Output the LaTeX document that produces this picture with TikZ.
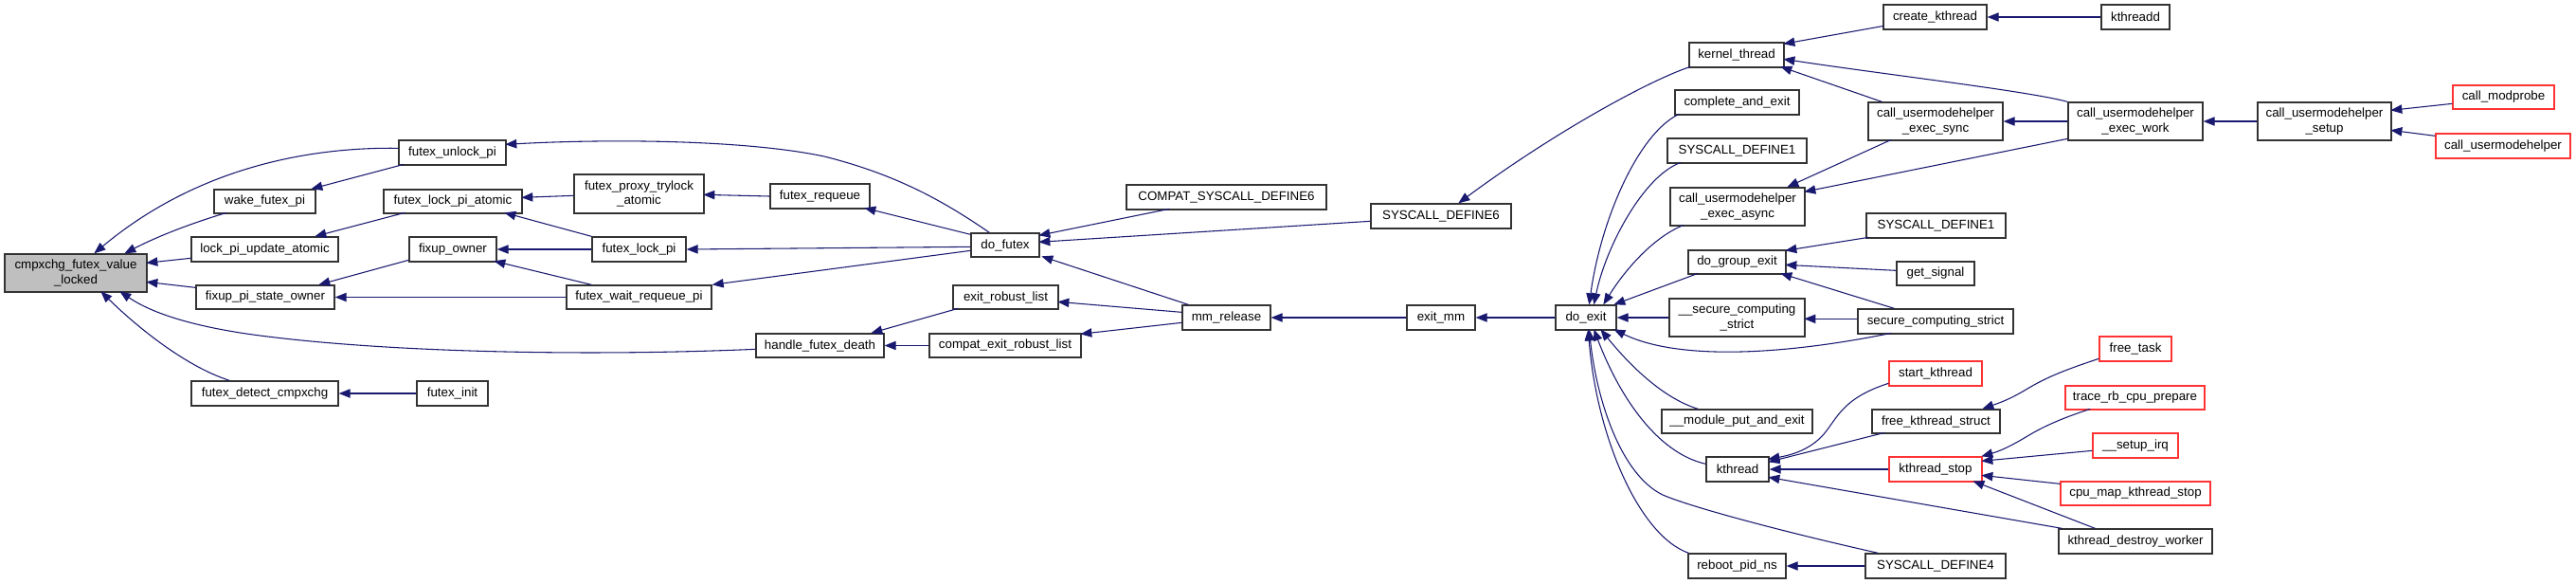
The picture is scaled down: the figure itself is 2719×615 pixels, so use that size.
\documentclass[tikz,border=0pt]{standalone}
\usepackage{fontspec}
\setmainfont{Liberation Sans}
\usetikzlibrary{arrows.meta,calc}
\definecolor{edgeblue}{HTML}{191970}
\definecolor{rootgray}{HTML}{BFBFBF}
\definecolor{nodered}{HTML}{FF3333}
\definecolor{nodeborder}{HTML}{333333}
\newcommand\nd[7]{\node[#6, minimum width={(#4-#2)*0.75pt}, minimum height={(#5-#3)*0.75pt}] (#1) at ({(#2+#4)/2},{(#3+#5)/2}) {#7};}
\begin{document}
\begin{tikzpicture}[x=0.75pt,y=-0.75pt,
 nbase/.style={draw, line width=1pt, inner sep=0pt, align=center, font=\fontsize{10}{11.5}\selectfont},
 nplain/.style={nbase, draw=nodeborder, fill=white},
 nred/.style={nbase, draw=nodered, fill=white},
 nroot/.style={nbase, draw=nodeborder, fill=rootgray},
 conn/.style={draw=edgeblue, line width=0.8pt, -{Triangle[length=9pt,width=7pt]}}]
\fill[white] (0,0) rectangle (2719,615);
\useasboundingbox (0,0) rectangle (2719,615);
% nodes
\nd{cmpx}{5}{268}{155}{308}{nroot}{cmpxchg\_futex\_value\\\_locked}
\nd{unlock}{421}{148}{534}{174}{nplain}{futex\_unlock\_pi}
\nd{wake}{226}{200}{333}{225}{nplain}{wake\_futex\_pi}
\nd{lpatomic}{405}{200}{551}{225}{nplain}{futex\_lock\_pi\_atomic}
\nd{lpupd}{202}{250}{357}{276}{nplain}{lock\_pi\_update\_atomic}
\nd{fixown}{432}{250}{524}{276}{nplain}{fixup\_owner}
\nd{fixpi}{207}{301}{353}{326}{nplain}{fixup\_pi\_state\_owner}
\nd{detect}{202}{402}{357}{428}{nplain}{futex\_detect\_cmpxchg}
\nd{finit}{440}{402}{515}{428}{nplain}{futex\_init}
\nd{proxy}{606}{184}{743}{225}{nplain}{futex\_proxy\_trylock\\\_atomic}
\nd{requeue}{813}{194}{918}{220}{nplain}{futex\_requeue}
\nd{lockpi}{625}{250}{724}{276}{nplain}{futex\_lock\_pi}
\nd{waitrq}{598}{301}{751}{326}{nplain}{futex\_wait\_requeue\_pi}
\nd{handle}{798}{352}{933}{377}{nplain}{handle\_futex\_death}
\nd{dofutex}{1025}{246}{1097}{271}{nplain}{do\_futex}
\nd{erl}{1006}{301}{1117}{326}{nplain}{exit\_robust\_list}
\nd{cerl}{981}{352}{1141}{377}{nplain}{compat\_exit\_robust\_list}
\nd{mmrel}{1248}{322}{1341}{348}{nplain}{mm\_release}
\nd{compat6}{1189}{195}{1400}{221}{nplain}{COMPAT\_SYSCALL\_DEFINE6}
\nd{sys6}{1447}{215}{1595}{241}{nplain}{SYSCALL\_DEFINE6}
\nd{exitmm}{1485}{322}{1557}{348}{nplain}{exit\_mm}
\nd{doexit}{1642}{322}{1706}{348}{nplain}{do\_exit}
\nd{kthr}{1783}{45}{1883}{71}{nplain}{kernel\_thread}
\nd{cae}{1768}{95}{1899}{121}{nplain}{complete\_and\_exit}
\nd{sdia}{1760}{146}{1907}{172}{nplain}{SYSCALL\_DEFINE1}
\nd{async}{1763}{198}{1905}{238}{nplain}{call\_usermodehelper\\\_exec\_async}
\nd{dge}{1782}{264}{1885}{289}{nplain}{do\_group\_exit}
\nd{scs}{1762}{315}{1905}{355}{nplain}{\_\_secure\_computing\\\_strict}
\nd{mpe}{1754}{432}{1913}{457}{nplain}{\_\_module\_put\_and\_exit}
\nd{kthread}{1801}{482}{1867}{508}{nplain}{kthread}
\nd{reboot}{1782}{584}{1885}{610}{nplain}{reboot\_pid\_ns}
\nd{create}{1988}{5}{2097}{31}{nplain}{create\_kthread}
\nd{kthreadd}{2218}{5}{2290}{31}{nplain}{kthreadd}
\nd{sync}{1972}{108}{2114}{148}{nplain}{call\_usermodehelper\\\_exec\_sync}
\nd{work}{2183}{108}{2325}{148}{nplain}{call\_usermodehelper\\\_exec\_work}
\nd{sdib}{1970}{225}{2117}{251}{nplain}{SYSCALL\_DEFINE1}
\nd{getsig}{2002}{276}{2084}{301}{nplain}{get\_signal}
\nd{secs}{1961}{326}{2125}{352}{nplain}{secure\_computing\_strict}
\nd{startk}{1994}{381}{2092}{407}{nred}{start\_kthread}
\nd{fks}{1976}{432}{2111}{457}{nplain}{free\_kthread\_struct}
\nd{kstop}{1994}{482}{2092}{508}{nred}{kthread\_stop}
\nd{sdiv}{1969}{584}{2117}{610}{nplain}{SYSCALL\_DEFINE4}
\nd{freetask}{2216}{355}{2292}{381}{nred}{free\_task}
\nd{trace}{2180}{407}{2327}{432}{nred}{trace\_rb\_cpu\_prepare}
\nd{setupirq}{2209}{457}{2299}{483}{nred}{\_\_setup\_irq}
\nd{cpumap}{2175}{508}{2333}{533}{nred}{cpu\_map\_kthread\_stop}
\nd{kdw}{2173}{558}{2335}{584}{nplain}{kthread\_destroy\_worker}
\nd{setup}{2383}{108}{2524}{148}{nplain}{call\_usermodehelper\\\_setup}
\nd{modprobe}{2589}{90}{2696}{115}{nred}{call\_modprobe}
\nd{cuh}{2571}{141}{2713}{167}{nred}{call\_usermodehelper}
% edges (caller -> callee)
\draw[conn] ($(unlock.north west)+(0,9)$) .. controls (330,155) and (210,175) .. ($(cmpx.north west)+(95,0)$);
\draw[conn] ($(wake.north west)+(14,25)$) .. controls (200,236) and (165,250) .. ($(cmpx.north west)+(127,0)$);
\draw[conn] ($(lpupd.north west)+(0,23)$) -- ($(cmpx.north west)+(150,10)$);
\draw[conn] ($(fixpi.north west)+(0,3)$) -- ($(cmpx.north west)+(150,30)$);
\draw[conn] ($(handle.north west)+(0,17)$) .. controls (620,376) and (400,372) .. (260,352) .. controls (200,343) and (160,330) .. ($(cmpx.north west)+(122,40)$);
\draw[conn] ($(detect.north west)+(41,0)$) .. controls (200,388) and (150,350) .. ($(cmpx.north west)+(102,40)$);
\draw[conn] ($(unlock.north west)+(6,26)$) -- ($(wake.north west)+(103,0)$);
\draw[conn] ($(lpatomic.north west)+(23,25)$) -- ($(lpupd.north west)+(131,0)$);
\draw[conn] ($(fixown.north west)+(0,25)$) -- ($(fixpi.north west)+(130,0)$);
\draw[conn] (waitrq.west) -- (fixpi.east);
\draw[conn] (finit.west) -- (detect.east);
\draw[conn] ($(dofutex.north west)+(20,0)$) .. controls (1000,215) and (950,185) .. (870,165) .. controls (790,148) and (650,146) .. ($(unlock.north west)+(113,5)$);
\draw[conn] ($(proxy.north west)+(0,23)$) -- ($(lpatomic.north west)+(146,9)$);
\draw[conn] (lockpi.north west) -- ($(lpatomic.north west)+(128,25)$);
\draw[conn] (lockpi.west) -- (fixown.east);
\draw[conn] ($(waitrq.north west)+(27,0)$) -- ($(fixown.north west)+(90,26)$);
\draw[conn] (requeue.west) -- ($(proxy.north west)+(137,22)$);
\draw[conn] ($(dofutex.north west)+(0,2)$) -- ($(requeue.north west)+(100,26)$);
\draw[conn] ($(dofutex.north west)+(0,15)$) -- (lockpi.east);
\draw[conn] ($(dofutex.north west)+(0,19)$) -- (waitrq.north east);
\draw[conn] ($(erl.north west)+(6,25)$) -- ($(handle.north west)+(122,0)$);
\draw[conn] (cerl.west) -- (handle.east);
\draw[conn] ($(compat6.north west)+(46,26)$) -- ($(dofutex.north west)+(72,3)$);
\draw[conn] ($(sys6.north west)+(0,19)$) -- ($(dofutex.north west)+(72,10)$);
\draw[conn] ($(mmrel.north west)+(7,0)$) -- ($(dofutex.north west)+(75,25)$);
\draw[conn] ($(mmrel.north west)+(0,8)$) -- ($(erl.north west)+(111,18)$);
\draw[conn] ($(mmrel.north west)+(0,19)$) -- ($(cerl.north west)+(160,1)$);
\draw[conn] (exitmm.west) -- (mmrel.east);
\draw[conn] (doexit.west) -- (exitmm.east);
\draw[conn] ($(kthr.north west)+(2,26)$) .. controls (1740,85) and (1640,140) .. ($(sys6.north west)+(93,0)$);
\draw[conn] ($(cae.north west)+(5,26)$) .. controls (1730,140) and (1690,230) .. ($(doexit.north west)+(36,0)$);
\draw[conn] ($(sdia.north west)+(15,26)$) .. controls (1735,185) and (1695,260) .. ($(doexit.north west)+(41,0)$);
\draw[conn] ($(async.north west)+(15,40)$) .. controls (1745,250) and (1715,285) .. ($(doexit.north west)+(51,0)$);
\draw[conn] ($(dge.north west)+(11,25)$) -- ($(doexit.north west)+(62,0)$);
\draw[conn] (scs.west) -- (doexit.east);
\draw[conn] ($(secs.north west)+(36,26)$) .. controls (1880,375) and (1770,380) .. ($(doexit.north west)+(62,26)$);
\draw[conn] ($(mpe.north west)+(39,0)$) .. controls (1755,420) and (1720,385) .. ($(doexit.north west)+(48,26)$);
\draw[conn] ($(kthread.north west)+(0,8)$) .. controls (1750,478) and (1710,420) .. ($(doexit.north west)+(41,26)$);
\draw[conn] ($(sdiv.north west)+(14,0)$) .. controls (1900,565) and (1790,537) .. (1755,522) .. controls (1710,500) and (1685,420) .. ($(doexit.north west)+(36,26)$);
\draw[conn] ($(reboot.north west)+(1,0)$) .. controls (1730,565) and (1685,460) .. ($(doexit.north west)+(35,26)$);
\draw[conn] ($(create.north west)+(1,23)$) -- ($(kthr.north west)+(100,2)$);
\draw[conn] (kthreadd.west) -- (create.east);
\draw[conn] (work.north west) .. controls (2140,96) and (2000,80) .. ($(kthr.north west)+(100,18)$);
\draw[conn] ($(sync.north west)+(15,0)$) -- ($(kthr.north west)+(97,26)$);
\draw[conn] (work.west) -- (sync.east);
\draw[conn] ($(sync.north west)+(25,40)$) -- ($(async.north west)+(124,0)$);
\draw[conn] ($(work.north west)+(0,39)$) -- ($(async.north west)+(142,5)$);
\draw[conn] (setup.west) -- (work.east);
\draw[conn] ($(modprobe.north west)+(0,20)$) -- ($(setup.north west)+(141,9)$);
\draw[conn] ($(cuh.north west)+(0,3)$) -- ($(setup.north west)+(141,30)$);
\draw[conn] ($(sdib.north west)+(3,26)$) -- ($(dge.north west)+(103,1)$);
\draw[conn] ($(getsig.north west)+(0,10)$) -- ($(dge.north west)+(103,16)$);
\draw[conn] ($(secs.north west)+(39,0)$) -- ($(dge.north west)+(98,25)$);
\draw[conn] ($(secs.north west)+(0,11)$) -- ($(scs.north west)+(143,22)$);
\draw[conn] ($(startk.north west)+(0,24)$) .. controls (1945,420) and (1940,440) .. (1925,458) .. controls (1910,475) and (1890,480) .. ($(kthread.north west)+(66,3)$);
\draw[conn] ($(fks.north west)+(14,25)$) -- ($(kthread.north west)+(66,6)$);
\draw[conn] (kstop.west) -- (kthread.east);
\draw[conn] ($(kdw.north west)+(4,0)$) -- ($(kthread.north west)+(66,22)$);
\draw[conn] ($(freetask.north west)+(0,24)$) .. controls (2180,390) and (2160,398) .. (2140,410) .. controls (2120,422) and (2110,425) .. ($(fks.north west)+(117,0)$);
\draw[conn] ($(trace.north west)+(27,25)$) .. controls (2180,440) and (2160,448) .. (2140,460) .. controls (2120,472) and (2110,476) .. ($(kstop.north west)+(98,0)$);
\draw[conn] ($(setupirq.north west)+(0,19)$) -- ($(kstop.north west)+(98,5)$);
\draw[conn] ($(cpumap.north west)+(0,3)$) -- ($(kstop.north west)+(98,20)$);
\draw[conn] ($(kdw.north west)+(39,0)$) -- ($(kstop.north west)+(89,26)$);
\draw[conn] (sdiv.west) -- (reboot.east);
\end{tikzpicture}
\end{document}
